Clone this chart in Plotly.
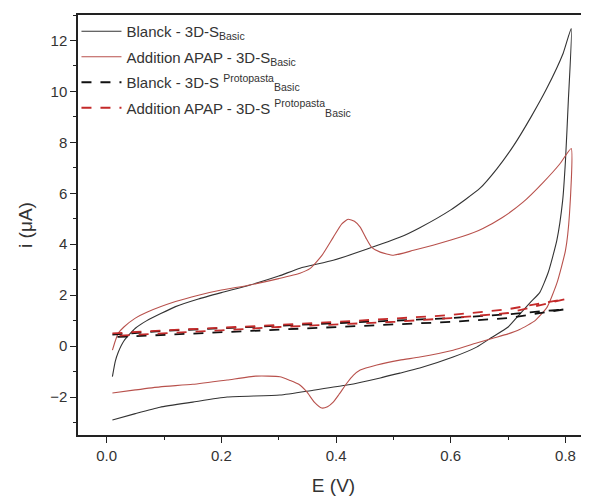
import plotly.graph_objects as go

# Blanck - 3D-S Basic (solid black), full CV loop
blank_E = [0.01, 0.015, 0.02, 0.03, 0.05, 0.07, 0.12, 0.16, 0.2, 0.25, 0.3, 0.337, 0.395, 0.453, 0.511, 0.546, 0.6, 0.651, 0.68, 0.709, 0.74, 0.767, 0.796, 0.81,
           0.805, 0.80, 0.795, 0.785, 0.77, 0.755, 0.738, 0.72, 0.70, 0.672, 0.645, 0.604, 0.546, 0.511, 0.477, 0.419, 0.36, 0.302, 0.21, 0.15, 0.093, 0.05, 0.01]
blank_i = [-1.2, -0.6, -0.25, 0.2, 0.7, 1.0, 1.55, 1.85, 2.1, 2.4, 2.75, 3.06, 3.37, 3.8, 4.27, 4.65, 5.35, 6.2, 6.95, 7.85, 9.0, 10.1, 11.5, 12.47,
           9.65, 7.3, 5.7, 4.16, 2.9, 2.1, 1.7, 1.25, 0.75, 0.35, -0.04, -0.43, -0.86, -1.06, -1.25, -1.53, -1.73, -1.92, -2.0, -2.2, -2.4, -2.65, -2.9]

# Addition APAP - 3D-S Basic (solid red)
apap_E = [0.01, 0.015, 0.02, 0.03, 0.05, 0.07, 0.12, 0.16, 0.2, 0.25, 0.3, 0.337, 0.355, 0.375, 0.395, 0.41, 0.421, 0.432, 0.442, 0.452, 0.462, 0.477, 0.5, 0.535, 0.569, 0.62, 0.656, 0.69, 0.726, 0.76, 0.79, 0.81,
          0.807, 0.80, 0.785, 0.768, 0.747, 0.72, 0.70, 0.672, 0.645, 0.604, 0.546, 0.511, 0.471, 0.442, 0.43, 0.419, 0.405, 0.395, 0.385, 0.375, 0.362, 0.349, 0.335, 0.32, 0.302, 0.26, 0.21, 0.15, 0.093, 0.05, 0.01]
apap_i = [-0.16, 0.2, 0.5, 0.75, 1.1, 1.33, 1.75, 2.0, 2.2, 2.4, 2.65, 2.86, 3.05, 3.55, 4.27, 4.8, 4.98, 4.9, 4.67, 4.25, 3.88, 3.69, 3.57, 3.76, 3.96, 4.3, 4.62, 5.05, 5.65, 6.4, 7.15, 7.76,
          5.2, 3.76, 2.47, 1.53, 1.0, 0.65, 0.48, 0.3, 0.12, -0.16, -0.43, -0.55, -0.74, -0.94, -1.15, -1.45, -1.9, -2.2, -2.38, -2.43, -2.2, -1.8, -1.5, -1.35, -1.2, -1.18, -1.33, -1.5, -1.6, -1.72, -1.84]

# Protopasta dashed loops
proto_E = [0.01, 0.1, 0.2, 0.3, 0.4, 0.5, 0.6, 0.7, 0.8, 0.7, 0.6, 0.5, 0.4, 0.3, 0.2, 0.1, 0.01]
proto_blank_i = [0.45, 0.6, 0.7, 0.8, 0.9, 1.0, 1.1, 1.25, 1.45, 1.1, 0.95, 0.85, 0.75, 0.65, 0.55, 0.45, 0.35]
proto_apap_i = [0.5, 0.62, 0.72, 0.83, 0.95, 1.08, 1.22, 1.45, 1.85, 1.3, 1.1, 0.95, 0.85, 0.75, 0.62, 0.5, 0.4]

x_ticks = [0.0, 0.2, 0.4, 0.6, 0.8]
y_ticks = [-2, 0, 2, 4, 6, 8, 10, 12]

BLACK = "#333333"
RED = "#b8514c"
DRED = "#c42a2a"

fig = go.Figure()
fig.add_trace(go.Scatter(x=blank_E, y=blank_i, mode="lines", legendgroup="a",
                         line=dict(color=BLACK, width=1.1, shape="spline", smoothing=0.5),
                         name="Blanck - 3D-S<sub>Basic</sub>"))
fig.add_trace(go.Scatter(x=apap_E, y=apap_i, mode="lines", legendgroup="b",
                         line=dict(color=RED, width=1.1, shape="spline", smoothing=0.5),
                         name="Addition APAP - 3D-S<sub>Basic</sub>"))
fig.add_trace(go.Scatter(x=proto_E, y=proto_blank_i, mode="lines", legendgroup="c",
                         line=dict(color="#111111", width=1.8, dash="10px,9px"),
                         name="Blanck - 3D-S <sup>Protopasta</sup><sub>Basic</sub>"))
fig.add_trace(go.Scatter(x=proto_E, y=proto_apap_i, mode="lines", legendgroup="d",
                         line=dict(color=DRED, width=1.8, dash="10px,9px"),
                         name="Addition APAP - 3D-S <sup>Protopasta</sup><sub>Basic</sub>"))

axis_common = dict(
    showgrid=False, zeroline=False, showline=True, linecolor="#222", linewidth=1.5,
    ticks="outside", ticklen=6, tickwidth=1.3, tickcolor="#222", automargin=False,
    tickfont=dict(family="Liberation Sans, Arial, sans-serif", size=15, color="#333"),
)

# page body adds an 8px offset; figure sized to fit the visible window
fig.update_layout(
    width=581, height=490,
    margin=dict(l=70, r=0, t=7, b=63),
    paper_bgcolor="white", plot_bgcolor="white",
    showlegend=True,
    legend=dict(x=-0.003, y=1.0, xanchor="left", yanchor="top",
                bgcolor="rgba(0,0,0,0)",
                font=dict(family="Liberation Sans, Arial, sans-serif", size=15, color="#333"),
                tracegroupgap=3, itemwidth=40),
    font=dict(family="Liberation Sans, Arial, sans-serif"),
)
fig.update_xaxes(**axis_common, range=[-0.05, 0.841], tickvals=x_ticks,
                 ticktext=[f"{v:.1f}" for v in x_ticks], mirror=True,
                 minor=dict(ticks="outside", ticklen=3, dtick=0.1, tick0=0, tickcolor="#222"),
                 title=dict(text="E (V)", font=dict(size=19, color="#333"), standoff=16))
fig.update_yaxes(**axis_common, range=[-3.49, 13.0], tickvals=y_ticks, mirror=False,
                 minor=dict(ticks="outside", ticklen=3, dtick=1, tick0=1, tickcolor="#222"),
                 title=dict(text="i (\u03bcA)", font=dict(size=19, color="#333"), standoff=12))

fig.write_html("out.html")
